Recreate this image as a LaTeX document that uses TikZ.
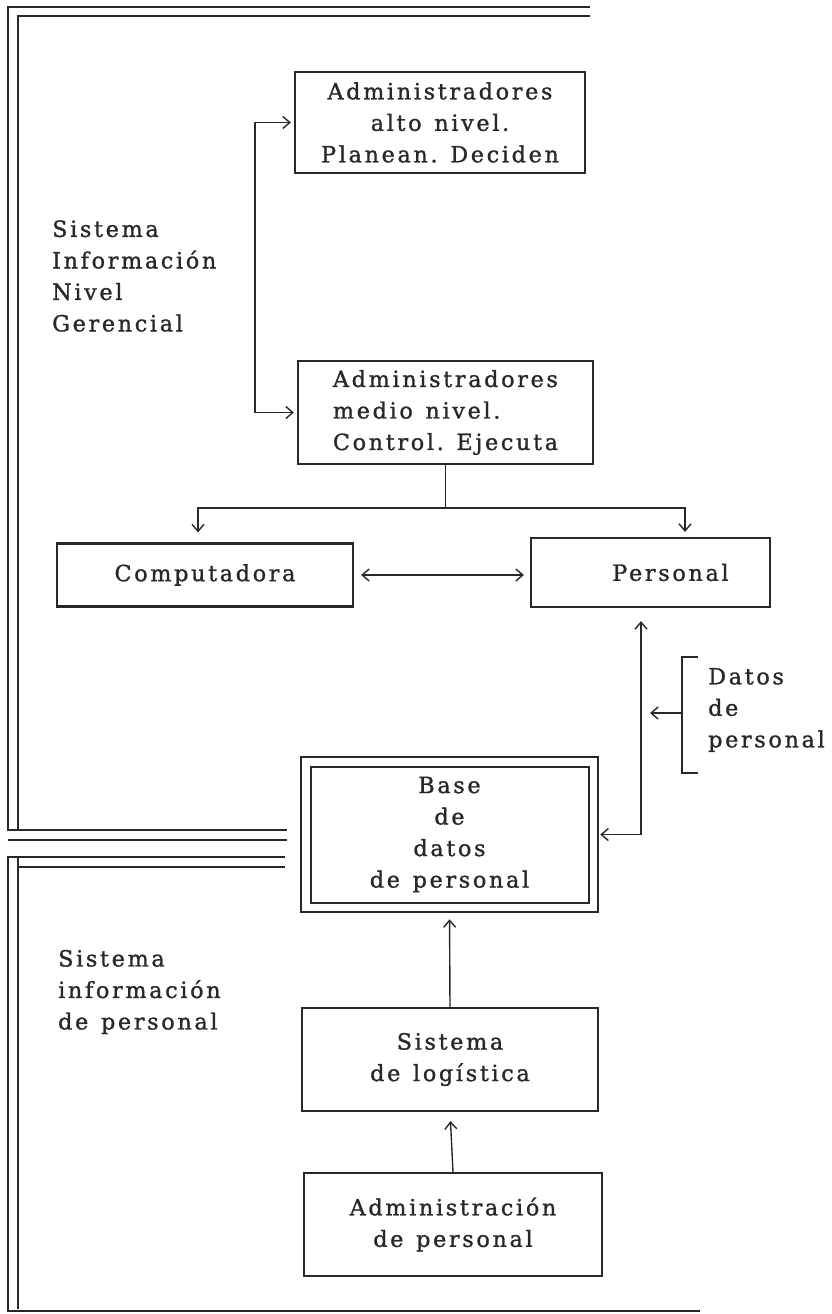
\documentclass[tikz,border=0pt]{standalone}
\usepackage{fontspec}
\setmainfont{DejaVu Serif}[LetterSpace=12, WordSpace=1.3, FakeBold=1.2]
\usetikzlibrary{arrows.meta}
\definecolor{ink}{RGB}{40,40,40}
\begin{document}
\frenchspacing
\begin{tikzpicture}[x=1pt,y=-1pt,
  every node/.style={text=ink, font=\fontsize{22.3}{31.5}\selectfont},
  box/.style={draw=ink, line width=2.2pt, inner sep=0pt, align=center},
  conn/.style={draw=ink, line width=1.4pt},
  arr/.style={conn, -{Straight Barb[length=7pt,width=12pt]}},
  arrr/.style={conn, {Straight Barb[length=7pt,width=12pt]}-{Straight Barb[length=7pt,width=12pt]}},
  frame/.style={draw=ink, line width=1.8pt},
  lbl/.style={anchor=west, align=left, inner sep=0pt}]
\useasboundingbox (0,0) rectangle (831,1314);
% frame
\draw[frame] (590,7) -- (8,7) -- (8,830) -- (287,830);
\draw[frame] (590,16) -- (18,16) -- (18,830);
\draw[frame] (8,840) -- (287,840);
\draw[frame] (285,857) -- (8,857) -- (8,1311) -- (700,1311);
\draw[frame] (18,857) -- (18,1309);
\draw[frame] (18,867) -- (285,867);
% boxes
\node[box, minimum width=290, minimum height=101] (b1) at (440,122.5) {Administradores\\alto nivel.\\Planean. Deciden};
\node[box, minimum width=295, minimum height=103, align=left] (b2) at (445.5,412.5) {Administradores\\medio nivel.\\Control. Ejecuta};
\node[box, minimum width=296, minimum height=63] (comp) at (205,575) {Computadora};
\node[box, minimum width=239, minimum height=69] (pers) at (650.5,572.5) {\hspace*{40pt}Personal};
\node[box, double, double distance=7.5pt, line width=2pt, minimum width=287.5, minimum height=145.5] (base) at (449.5,834.5) {Base\\de\\datos\\de personal};
\node[box, minimum width=296, minimum height=103] (log) at (450,1059.5) {Sistema\\de logística};
\node[box, minimum width=298, minimum height=103] (adm) at (453,1224.5) {Administración\\de personal};
% labels
\node[lbl] (sig) at (52,276) {Sistema\\Información\\Nivel\\Gerencial};
\node[lbl] (sip) at (58,992) {Sistema\\información\\de personal};
\node[lbl] (datos) at (708,710) {Datos\\de\\personal};
% connectors
\coordinate (lv) at (255,0);
\draw[arrr, shorten <=3, shorten >=3] (b1.west) -| (lv |- b2.west) -- (b2.west);
\coordinate (sp) at (444,508);
\draw[conn] (b2.south) -- (b2.south |- sp);
\draw[arr, shorten >=10] (b2.south |- sp) -| ([xshift=-7]comp.north);
\draw[arr, shorten >=5] (b2.south |- sp) -| ([xshift=34.5]pers.north);
\draw[arrr, shorten <=7, shorten >=6] (comp.east) -- (comp.east -| pers.west);
\draw[arrr, shorten <=13, shorten >=6] ([xshift=-9.5]pers.south) |- (base.east);
\coordinate (br) at (682,713);
\coordinate (lv2) at (641,0);
\draw[conn] (698,657) -- (682,657) -- (682,773) -- (698,773);
\draw[arr, shorten >=9] (br) -- (br -| lv2);
\draw[arr, shorten >=11] (log.north) -- (base.south);
\draw[arr, shorten >=9] (adm.north) -- (log.south);
\end{tikzpicture}
\end{document}
